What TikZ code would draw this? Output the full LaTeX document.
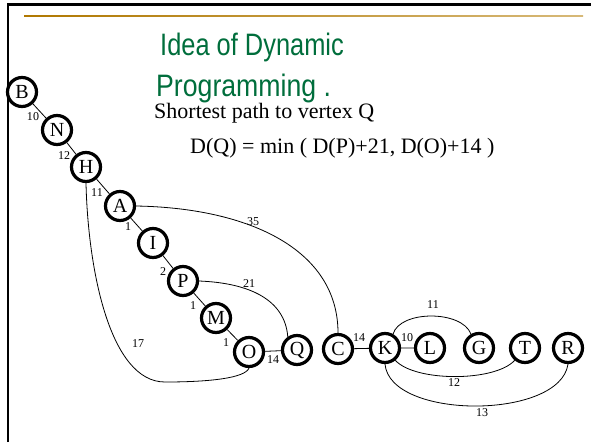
\documentclass[tikz,border=0pt]{standalone}
\usepackage{fontspec}
\setmainfont{Liberation Serif}
\newfontfamily\titlefont{Liberation Sans}
\definecolor{titlegreen}{RGB}{0,110,60}
\definecolor{goldA}{RGB}{176,120,0}
\definecolor{goldB}{RGB}{215,185,120}
\begin{document}
\begin{tikzpicture}[x=1pt,y=-1pt,
  vert/.style={circle,draw,line width=3.2pt,minimum size=29pt,inner sep=0pt,font=\fontsize{20}{20}\selectfont},
  edge/.style={line width=0.8pt},
  wlab/.style={font=\fontsize{12}{12}\selectfont,inner sep=0pt},
  titletext/.style={anchor=base west,inner sep=0pt,text=titlegreen,font=\titlefont\fontsize{31}{36}\selectfont},
  bodytext/.style={anchor=base west,inner sep=0pt,font=\fontsize{22}{26}\selectfont}]
\useasboundingbox (0,0) rectangle (591,442);
\fill[white] (0,0) rectangle (591,442);
\draw[line width=2.6pt] (8,442) -- (8,4.7) -- (591,4.7);
\shade[left color=goldA,right color=goldB] (24,15.3) rectangle (583,16.8);

\node[titletext] (t1) at (160,55) {\scalebox{0.82}[1]{Idea of Dynamic}};
\node[titletext] (t2) at (156,96) {\scalebox{0.86}[1]{Programming .}};
\node[bodytext] (s1) at (154,118) {Shortest path to vertex Q};
\node[bodytext] (s2) at (190,153) {D(Q) = min ( D(P)+21, D(O)+14 )};

\node[vert] (B) at (22,92) {B};
\node[vert] (N) at (57,130) {N};
\node[vert] (H) at (86,167) {H};
\node[vert] (A) at (120,206) {A};
\node[vert] (I) at (153,243) {I};
\node[vert] (P) at (183,281) {P};
\node[vert] (M) at (216,318) {M};
\node[vert] (O) at (249,352) {O};
\node[vert] (Q) at (297,350) {Q};
\node[vert] (C) at (338,349) {C};
\node[vert] (K) at (385,348) {K};
\node[vert] (L) at (430,348) {L};
\node[vert] (G) at (479,348) {G};
\node[vert] (T) at (525,348) {T};
\node[vert] (R) at (568,348) {R};

\draw[edge] (B)--(N) (N)--(H) (H)--(A) (A)--(I) (I)--(P) (P)--(M) (M)--(O)
  (O)--(Q) (C)--(K) (K)--(L);
\draw[edge] (H.south) .. controls (88,270) and (110,382) .. (165,382)
  .. controls (210,382) and (245,378) .. (O.south);
\draw[edge] (A.east) .. controls (250,208) and (338,250) .. (C.north);
\draw[edge] (P.east) .. controls (250,283) and (285,300) .. (Q.125);
\draw[edge] (K.60) .. controls (400,310) and (462,310) .. (G.120);
\draw[edge] (K.-50) .. controls (415,382) and (495,382) .. (T.-130);
\draw[edge] (K.south) .. controls (390,420) and (560,420) .. (R.south);

\node[wlab] (w1) at (33,117) {10};
\node[wlab] (w2) at (64,156) {12};
\node[wlab] (w3) at (97,193) {11};
\node[wlab] (w4) at (128,227) {1};
\node[wlab] (w5) at (163,272) {2};
\node[wlab] (w6) at (193,306) {1};
\node[wlab] (w7) at (226,343) {1};
\node[wlab] (w8) at (273,360) {14};
\node[wlab] (w9) at (138,344) {17};
\node[wlab] (w10) at (253,222) {35};
\node[wlab] (w11) at (249,284) {21};
\node[wlab] (w12) at (359,338) {14};
\node[wlab] (w13) at (407,338) {10};
\node[wlab] (w14) at (433,305) {11};
\node[wlab] (w15) at (454,383) {12};
\node[wlab] (w16) at (482,413) {13};
\end{tikzpicture}
\end{document}
